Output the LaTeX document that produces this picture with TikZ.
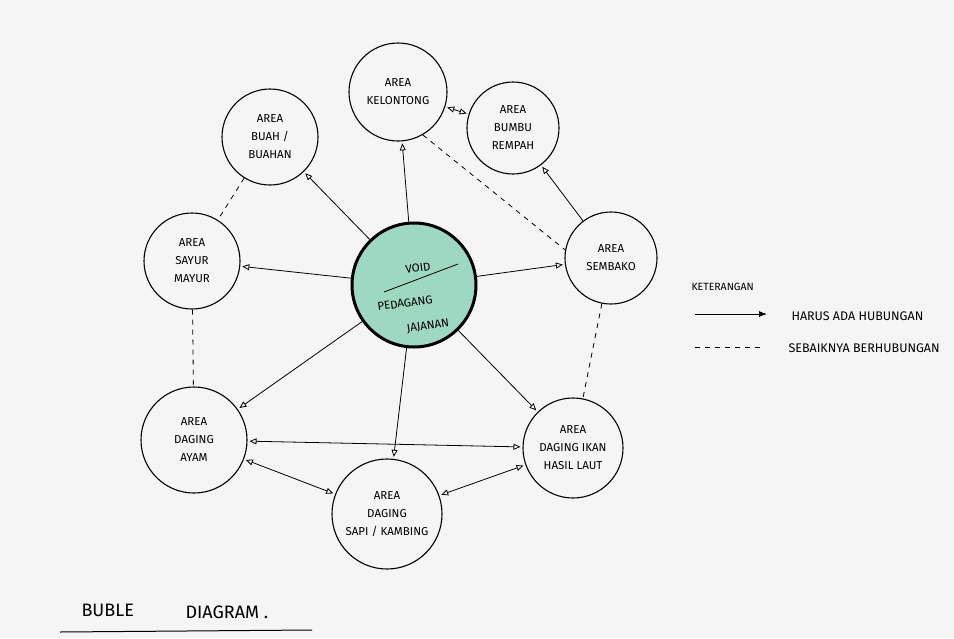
\documentclass[tikz,border=0pt]{standalone}
\usepackage{fontspec}
\setmainfont{Fira Sans}
\usetikzlibrary{arrows.meta}
\definecolor{paper}{HTML}{F4F5F4}
\definecolor{mint}{HTML}{9ED8C2}
\begin{document}
\begin{tikzpicture}[x=1pt,y=-1pt,
  area/.style={circle, draw, line width=1.1pt, minimum size=#1, inner sep=0pt, align=center,
    font=\fontsize{11.5}{18}\selectfont},
  link/.style={line width=0.8pt, -{Triangle[open,length=7pt,width=6pt]}, shorten >=2pt},
  blink/.style={line width=0.8pt, {Triangle[open,length=7pt,width=6pt]}-{Triangle[open,length=7pt,width=6pt]}, shorten >=2pt, shorten <=2pt},
  maybe/.style={line width=0.8pt, dash pattern=on 5pt off 5pt},
  legtext/.style={anchor=west, font=\fontsize{12.5}{14}\selectfont},
  voidtext/.style={rotate=8, inner sep=1pt, font=\fontsize{11.5}{14}\selectfont}
]
\fill[paper] (0,0) rectangle (954,638);
\useasboundingbox (0,0) rectangle (954,638);

% circles
\node[area=98pt]  (kel)  at (398,92)  {AREA\\KELONTONG};
\node[area=92pt]  (bum)  at (513,128) {AREA\\BUMBU\\REMPAH};
\node[area=96pt]  (buah) at (270,137) {AREA\\BUAH /\\BUAHAN};
\node[area=96pt]  (say)  at (192,261) {AREA\\SAYUR\\MAYUR};
\node[area=92pt]  (semb) at (611,258) {AREA\\SEMBAKO};
\node[area=106pt] (ayam) at (194,440) {AREA\\DAGING\\AYAM};
\node[area=110pt] (sapi) at (387,514) {AREA\\DAGING\\SAPI / KAMBING};
\node[area=100pt] (ikan) at (573,448) {AREA\\DAGING IKAN\\HASIL LAUT};

% void
\node[circle, draw, line width=3pt, fill=mint, minimum size=124pt, inner sep=0pt] (void) at (414,285) {};
\coordinate (vl1) at (384,292);
\coordinate (vl2) at (458,264);
\draw[line width=0.8pt] (vl1) -- (vl2);
\node[voidtext] (vt) at (418,268) {VOID};
\node[voidtext] (vp) at (405,303) {PEDAGANG};
\node[voidtext] (vj) at (428,326) {JAJANAN};

% connectors
\draw[link] (void) -- (kel);
\draw[link] (void) -- (buah);
\draw[link] (void) -- (say);
\draw[link] (void) -- (semb);
\draw[link] (void) -- (ikan);
\draw[link] (void) -- (sapi);
\draw[link] (void) -- (ayam);
\draw[link] (semb) -- (bum);
\draw[blink] (kel) -- (bum);
\draw[blink] (ayam) -- (ikan);
\draw[blink] (ayam) -- (sapi);
\draw[blink] (sapi) -- (ikan);
\draw[maybe] (buah) -- (say);
\draw[maybe] (say) -- (ayam);
\draw[maybe] (kel.-60) -- (semb.170);
\draw[maybe] (semb) -- (ikan);

% legend
\node[anchor=west, font=\fontsize{10.5}{12}\selectfont] (leg) at (688,287) {KETERANGAN};
\coordinate (s1) at (695,314);
\coordinate (s2) at (767,314);
\draw[line width=1pt, -{Latex[length=8pt,width=6pt]}] (s1) -- (s2);
\node[legtext] (t1) at (788,316) {HARUS ADA HUBUNGAN};
\coordinate (d1) at (695,347);
\coordinate (d2) at (762,347);
\draw[maybe] (d1) -- (d2);
\node[legtext] (t2) at (785,348) {SEBAIKNYA BERHUBUNGAN};

% title
\node[anchor=west, font=\fontsize{18}{20}\selectfont] (ta) at (78,610) {BUBLE};
\node[anchor=west, font=\fontsize{18}{20}\selectfont] (tb) at (182,612) {DIAGRAM .};
\coordinate (u1) at (60,632);
\coordinate (u2) at (312,630);
\draw[line width=1pt] (u1) -- (u2);
\end{tikzpicture}
\end{document}
